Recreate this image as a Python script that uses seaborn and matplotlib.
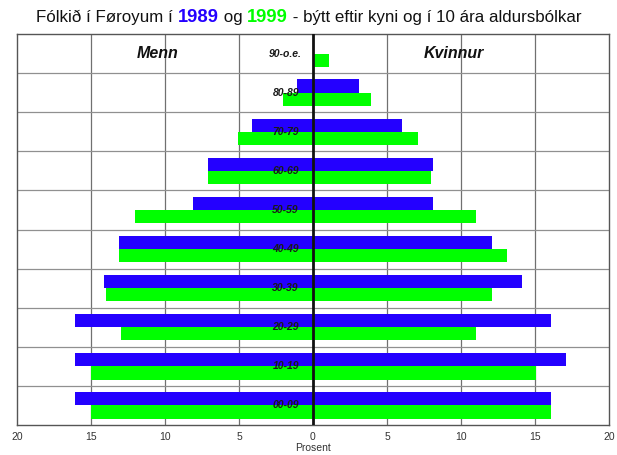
import matplotlib
matplotlib.use("Agg")
import matplotlib.pyplot as plt
import seaborn as sns
import pandas as pd

ages = ["90-o.e.", "80-89", "70-79", "60-69", "50-59", "40-49",
        "30-39", "20-29", "10-19", "00-09"]
men_1989 = [0.0, 1.1, 4.1, 7.1, 8.1, 13.1, 14.1, 16.1, 16.1, 16.1]
men_1999 = [0.0, 2.0, 5.1, 7.1, 12.0, 13.1, 14.0, 13.0, 15.0, 15.0]
women_1989 = [0.0, 3.1, 6.0, 8.1, 8.1, 12.1, 14.1, 16.1, 17.1, 16.1]
women_1999 = [1.1, 3.9, 7.1, 8.0, 11.0, 13.1, 12.1, 11.0, 15.1, 16.1]
years = ["1989", "1999"]
xticks = [-20, -15, -10, -5, 0, 5, 10, 15, 20]

BLUE = "#2400ff"
GREEN = "#00ff00"
FONT = "Liberation Sans"

sns.set_theme(style="white")
plt.rcParams["font.family"] = [FONT, "DejaVu Sans"]

men = pd.DataFrame({
    "age": ages * 2,
    "year": [years[0]] * len(ages) + [years[1]] * len(ages),
    "value": [-v for v in men_1989] + [-v for v in men_1999],
})
women = pd.DataFrame({
    "age": ages * 2,
    "year": [years[0]] * len(ages) + [years[1]] * len(ages),
    "value": women_1989 + women_1999,
})

fig = plt.figure(figsize=(6.17, 4.55), dpi=100)
ax = fig.add_axes([17 / 617, 1 - 425 / 455, 592 / 617, 391 / 455])

pal = {years[0]: BLUE, years[1]: GREEN}
for df in (men, women):
    sns.barplot(data=df, x="value", y="age", hue="year", order=ages,
                hue_order=years, palette=pal, orient="h", width=0.675,
                gap=0, linewidth=0, saturation=1, legend=False, ax=ax,
                errorbar=None, zorder=3)

ax.set_xlim(-20, 20)
ax.set_ylim(len(ages) - 0.5, -0.5)

# grid
for xv in xticks:
    if xv not in (-20, 20, 0):
        ax.axvline(xv, color="#707070", lw=0.9, zorder=1)
for i in range(1, len(ages)):
    ax.axhline(i - 0.5, color="#909090", lw=0.9, zorder=1)
ax.axvline(0, color="#111111", lw=2.0, zorder=5)

for s in ax.spines.values():
    s.set_color("#555555")
    s.set_linewidth(1.0)

ax.set_yticks([])
ax.set_ylabel("")
ax.set_xticks(xticks)
ax.set_xticklabels([str(abs(v)) for v in xticks], fontsize=7.5, color="#333333")
ax.tick_params(axis="x", length=0, pad=5)
ax.set_xlabel("Prosent", fontsize=7.5, color="#333333", labelpad=1)

for i, a in enumerate(ages):
    ax.text(-1.85, i, a, ha="center", va="center", fontsize=7.5,
            fontstyle="italic", fontweight="bold", color="#1a1a1a", zorder=6)

ax.text(-10.5, 0.0, "Menn", ha="center", va="center", fontsize=11.5,
        fontstyle="italic", fontweight="bold", color="#111111", zorder=6)
ax.text(9.5, 0.0, "Kvinnur", ha="center", va="center", fontsize=11.5,
        fontstyle="italic", fontweight="bold", color="#111111", zorder=6)

# title made of coloured pieces
pieces = ["Fólkið í Føroyum í ", "1989", " og ", "1999",
          " - býtt eftir kyni og í 10 ára aldursbólkar"]
colors = ["#111111", BLUE, "#111111", GREEN, "#111111"]
weights = ["normal", "bold", "normal", "bold", "normal"]
sizes = [12.2, 13.2, 12.2, 13.2, 12.2]
texts = []
for p, c, w, sz in zip(pieces, colors, weights, sizes):
    texts.append(fig.text(0, 1 - 22 / 455, p, color=c, fontweight=w,
                          fontsize=sz, ha="left", va="baseline"))
fig.canvas.draw()
r = fig.canvas.get_renderer()
widths = [t.get_window_extent(r).width for t in texts]
total = sum(widths)
x = 309 - total / 2
for t, wdt in zip(texts, widths):
    t.set_x(x / 617)
    x += wdt

fig.savefig("out.png", dpi=100)
